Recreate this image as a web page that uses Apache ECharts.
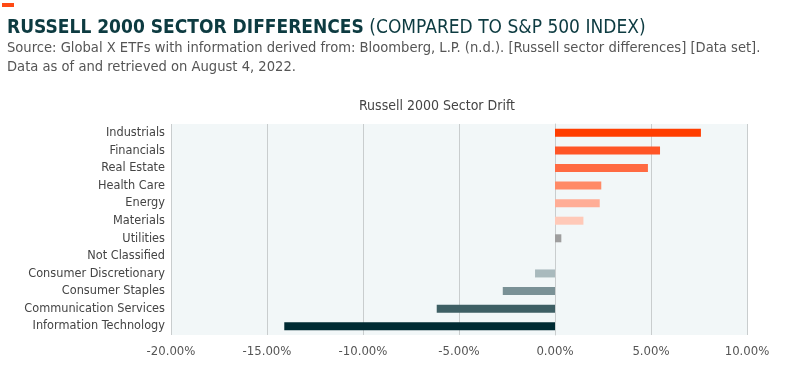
<!DOCTYPE html>
<html>
<head>
<meta charset="utf-8">
<script src="https://cdn.jsdelivr.net/npm/echarts@6/dist/echarts.min.js"></script>
<style>
  html, body { margin: 0; padding: 0; background: #fff; }
  #chart { width: 801px; height: 376px; }
</style>
</head>
<body>
<div id="chart"></div>
<script>
// sectors, top to bottom
const sectors = [
  'Industrials', 'Financials', 'Real Estate', 'Health Care', 'Energy', 'Materials',
  'Utilities', 'Not Classified', 'Consumer Discretionary', 'Consumer Staples',
  'Communication Services', 'Information Technology'
]
// difference vs S&P 500, in %
const drift = [7.6, 5.47, 4.84, 2.41, 2.33, 1.48, 0.33, 0, -1.04, -2.72, -6.16, -14.1]
const xTicks = [-20, -15, -10, -5, 0, 5, 10]

const barColors = [
  '#ff3d00', '#ff5526', '#ff6a42', '#ff8a66', '#ffad96', '#ffc9b8',
  '#9e9e9e', '#9e9e9e', '#a9babd', '#7a9196', '#3e5f64', '#002b33'
]
const font = '"Liberation Sans Narrow", "DejaVu Sans Condensed", "Liberation Sans", sans-serif'

const chart = echarts.init(document.getElementById('chart'))
const option = {
  animation: false,
  title: [
    {
      text: '{b|RUSSELL 2000 SECTOR DIFFERENCES} (COMPARED TO S&P 500 INDEX)',
      left: 2,
      top: 14,
      textStyle: {
        fontFamily: font,
        fontSize: 19,
        fontWeight: 'normal',
        color: '#0d3b41',
        rich: {
          b: { fontFamily: font, fontSize: 19, fontWeight: 'bold', color: '#0d3b41' }
        }
      }
    },
    {
      text: 'Source: Global X ETFs with information derived from: Bloomberg, L.P. (n.d.). [Russell sector differences] [Data set].\nData as of and retrieved on August 4, 2022.',
      left: 2,
      top: 34,
      textStyle: { fontFamily: font, fontSize: 14.6, fontWeight: 'normal', color: '#555', lineHeight: 19 }
    },
    {
      text: 'Russell 2000 Sector Drift',
      left: 432,
      textAlign: 'center',
      top: 94,
      textStyle: { fontFamily: font, fontSize: 14, fontWeight: 'normal', color: '#444' }
    }
  ],
  graphic: [
    { type: 'rect', left: 2, top: 3, shape: { width: 12, height: 4 }, style: { fill: '#ff4a14' } }
  ],
  grid: {
    left: 171,
    right: 54,
    top: 124,
    bottom: 41,
    show: true,
    backgroundColor: '#f2f7f8',
    borderWidth: 0
  },
  xAxis: {
    type: 'value',
    min: xTicks[0],
    max: xTicks[xTicks.length - 1],
    interval: 5,
    axisLine: { show: false },
    axisTick: { show: false },
    splitLine: { show: true, lineStyle: { color: '#c9cdce', width: 1 } },
    axisLabel: {
      margin: 10,
      fontFamily: font,
      fontSize: 13,
      color: '#555',
      formatter: v => v.toFixed(2) + '%'
    }
  },
  yAxis: {
    type: 'category',
    data: sectors,
    inverse: true,
    axisLine: { show: true, lineStyle: { color: '#c9cdce' } },
    axisTick: { show: false },
    axisLabel: { margin: 6, fontFamily: font, fontSize: 12.6, color: '#444' }
  },
  series: [
    {
      type: 'bar',
      data: drift,
      barWidth: 8,
      barCategoryGap: 0,
      itemStyle: {
        color: p => barColors[p.dataIndex]
      }
    }
  ]
}
chart.setOption(option)
</script>
</body>
</html>
